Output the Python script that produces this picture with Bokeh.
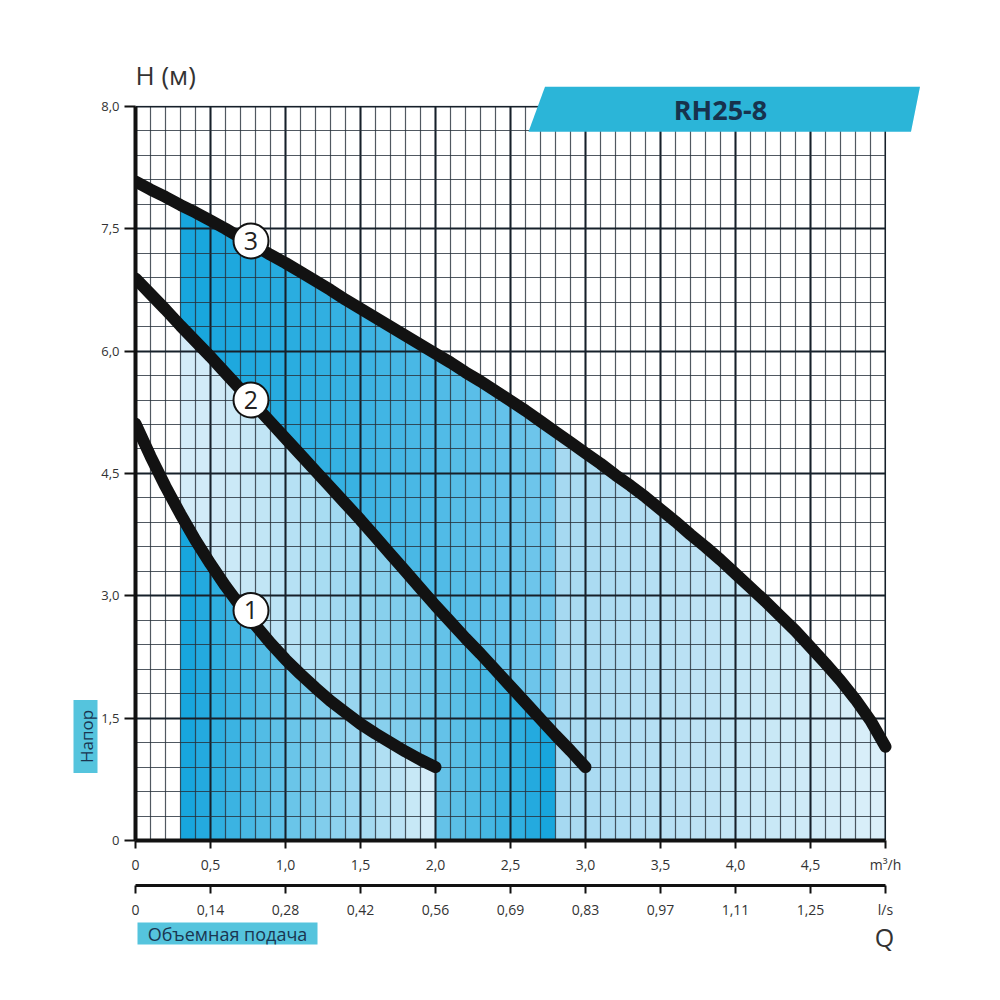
import math
from bokeh.plotting import figure
from bokeh.layouts import column, row
from bokeh.models import (FixedTicker, SingleIntervalTicker, LinearAxis, Range1d,
                          ColumnDataSource)
from bokeh.embed import file_html
from bokeh.resources import INLINE
from bokeh.core.properties import value

# ---------------- data ----------------
q = [round(i * 0.1, 1) for i in range(51)]          # flow, m3/h (one value per grid column)

curve3 = [8.08, 7.98, 7.89, 7.79, 7.70, 7.60, 7.50, 7.39, 7.29, 7.18, 7.08,
          6.97, 6.86, 6.75, 6.63, 6.52, 6.41, 6.30, 6.19, 6.08, 5.97,
          5.86, 5.74, 5.63, 5.51, 5.39, 5.27, 5.14, 5.01, 4.88, 4.75,
          4.62, 4.48, 4.35, 4.21, 4.06, 3.91, 3.75, 3.60, 3.44, 3.27,
          3.10, 2.93, 2.75, 2.57, 2.37, 2.17, 1.96, 1.73, 1.47, 1.15]
curve2 = [6.89, 6.70, 6.51, 6.31, 6.12, 5.93, 5.73, 5.53, 5.33, 5.13, 4.93,
          4.73, 4.53, 4.33, 4.13, 3.93, 3.72, 3.51, 3.30, 3.09, 2.88,
          2.68, 2.48, 2.29, 2.09, 1.89, 1.69, 1.49, 1.29, 1.10, 0.90]
curve1 = [5.11, 4.71, 4.34, 4.00, 3.68, 3.39, 3.12, 2.87, 2.64, 2.42, 2.22,
          2.04, 1.87, 1.71, 1.57, 1.43, 1.31, 1.20, 1.09, 0.99, 0.90]

badge_q = [0.77, 0.77, 0.77]
badge_h = [2.82, 5.40, 7.35]
badge_text = ["1", "2", "3"]

y_ticks = [0, 1.5, 3.0, 4.5, 6.0, 7.5, 9.0]
y_tick_labels = ["0", "1,5", "3,0", "4,5", "6,0", "7,5", "8,0"]
x_ticks = [0, 0.5, 1.0, 1.5, 2.0, 2.5, 3.0, 3.5, 4.0, 4.5, 5.0]
x_labels_m3h = ["0", "0,5", "1,0", "1,5", "2,0", "2,5", "3,0", "3,5", "4,0", "4,5", "m³/h"]
x_labels_ls = ["0", "0,14", "0,28", "0,42", "0,56", "0,69", "0,83", "0,97", "1,11", "1,25", "l/s"]

FONT = "Open Sans"
Q_MAX, H_MAX = 5.0, 9.0
X_END, Y_END = 865 / 150, 841 / 81.6667   # frame reaches the right and top edges of the page

# ---------------- main figure ----------------
p = figure(width=902, height=921, x_range=Range1d(0, X_END), y_range=Range1d(0, Y_END),
           output_backend="svg", toolbar_location=None,
           min_border_left=37, min_border_right=0,
           min_border_top=0, min_border_bottom=80,
           background_fill_color="white", border_fill_color="white")
p.outline_line_color = None

# gradient fills: one strip per grid column
def hex2rgb(h):
    h = h.lstrip("#")
    return tuple(int(h[i:i + 2], 16) for i in (0, 2, 4))

def mix(c1, c2, t):
    a, b = hex2rgb(c1), hex2rgb(c2)
    return "#%02x%02x%02x" % tuple(int(round(a[k] + (b[k] - a[k]) * t)) for k in range(3))

DARK = "#18a6dd"
LIGHT = "#d3ecf8"
xs, ys, cols = [], [], []
i0 = 3  # Q = 0.3
for i in range(i0, 20):                      # under curve 1
    t = (i - i0) / (19 - i0)
    xs.append([q[i], q[i + 1], q[i + 1], q[i]])
    ys.append([0, 0, curve1[i + 1], curve1[i]])
    cols.append(mix(DARK, LIGHT, t))
for i in range(i0, 28):                      # between curve 1 (or axis) and curve 2
    t = (i - i0) / (27 - i0)
    lo_a = curve1[i] if i < 20 else 0
    lo_b = curve1[i + 1] if i < 20 else 0
    xs.append([q[i], q[i + 1], q[i + 1], q[i]])
    ys.append([lo_a, lo_b, curve2[i + 1], curve2[i]])
    cols.append(mix(LIGHT, DARK, t ** 1.5))
for i in range(i0, 28):                      # between curve 2 and curve 3
    t = (i - i0) / (27 - i0)
    xs.append([q[i], q[i + 1], q[i + 1], q[i]])
    ys.append([curve2[i], curve2[i + 1], curve3[i + 1], curve3[i]])
    cols.append(mix(DARK, "#72c7ec", t ** 1.3))
for i in range(28, 50):                      # right part under curve 3
    t = (i - 28) / (49 - 28)
    xs.append([q[i], q[i + 1], q[i + 1], q[i]])
    ys.append([0, 0, curve3[i + 1], curve3[i]])
    cols.append(mix("#a6d9f1", "#dbeff9", t))

fill_src = ColumnDataSource(dict(xs=xs, ys=ys, c=cols))
p.patches("xs", "ys", source=fill_src, fill_color="c", line_color="c",
          line_width=0.6, level="image")

# grid
p.xgrid.ticker = SingleIntervalTicker(interval=0.5, num_minor_ticks=5)
p.ygrid.ticker = SingleIntervalTicker(interval=1.5, num_minor_ticks=5)
for g in (p.xgrid[0], p.ygrid[0]):
    g.grid_line_color = "#16202a"
    g.grid_line_width = 2
    g.minor_grid_line_color = "#26303a"
    g.minor_grid_line_width = 1.2
    g.minor_grid_line_alpha = 0.8
try:
    p.xgrid[0].cross_bounds = (0, H_MAX)
    p.ygrid[0].cross_bounds = (0, Q_MAX)
except (AttributeError, ValueError):
    pass

# white masks outside the chart area (grid only spans 0..5 x 0..9)
p.quad(left=[Q_MAX + 0.0075, -1], right=[X_END + 1, X_END + 1], bottom=[-1, H_MAX + 0.014],
       top=[Y_END + 1, Y_END + 1], fill_color="white", line_color="white", line_width=1)

# curves
for cq, ch in ((q[:21], curve1), (q[:31], curve2), (q, curve3)):
    p.line(cq, ch, line_width=12, line_color="#121212", line_cap="round", line_join="round")

p.scatter(badge_q, badge_h, marker="circle", size=35, fill_color="white",
          line_color="#121212", line_width=2)
p.text(badge_q, badge_h, text=badge_text, text_align="center", text_baseline="middle",
       text_font=value(FONT), text_font_size="25px", text_color="#222222")

# banner and axis title inside the frame
p.patch([2.73, 5.23, 5.17, 2.62], [9.24, 9.24, 8.69, 8.69], fill_color="#2bb5d8", line_color=None)
p.text([3.90], [8.965], text=["RH25-8"], text_font=value(FONT), text_font_style="bold",
       text_font_size="27px", text_color="#17324d", text_align="center", text_baseline="middle")
p.text([0.0], [9.38], text=["H (м)"], text_font=value(FONT), text_font_size="26px",
       text_color="#333333", text_align="left", text_baseline="middle")

# axes
def style_axis(ax, tick_out, line_w, fs):
    ax.axis_line_width = line_w
    ax.axis_line_color = "#111111"
    ax.major_tick_out = tick_out
    ax.major_tick_in = 0
    ax.major_tick_line_width = 2
    ax.major_tick_line_color = "#111111"
    ax.minor_tick_out = 0
    ax.minor_tick_in = 0
    ax.major_label_text_font = FONT
    ax.major_label_text_font_size = fs
    ax.major_label_text_color = "#333333"

ya = p.yaxis[0]
ya.ticker = FixedTicker(ticks=y_ticks)
ya.major_label_overrides = dict(zip(y_ticks, y_tick_labels))
ya.bounds = (0, H_MAX)
style_axis(ya, 11, 4, "13px")
ya.major_label_standoff = 5

xa = p.xaxis[0]
xa.ticker = FixedTicker(ticks=x_ticks)
xa.major_label_overrides = dict(zip(x_ticks, x_labels_m3h))
xa.bounds = (0, Q_MAX)
style_axis(xa, 8, 4, "14px")
xa.major_label_standoff = 6
xa.axis_label = " "
xa.axis_label_text_font_size = "6px"
xa.axis_label_standoff = 0

xa2 = LinearAxis(ticker=FixedTicker(ticks=x_ticks),
                 major_label_overrides=dict(zip(x_ticks, x_labels_ls)))
xa2.bounds = (0, Q_MAX)
style_axis(xa2, 8, 3, "14px")
xa2.major_label_standoff = 6
p.add_layout(xa2, "below")

# ---------------- left strip: "Напор" ----------------
lf = figure(width=98, height=921, x_range=Range1d(0, 98), y_range=Range1d(0, 921),
            x_axis_type=None, y_axis_type=None, output_backend="svg", toolbar_location=None,
            min_border=0, background_fill_color="white", border_fill_color="white")
lf.outline_line_color = None
lf.quad(left=[73], right=[97], bottom=[74], top=[154], fill_color="#55c4dd", line_color=None)
lf.text([86], [114], text=["Напор"], angle=math.pi / 2, text_font=value(FONT),
        text_font_size="17px", text_color="#1a3550", text_align="center", text_baseline="middle")

# ---------------- bottom strip: "Объемная подача", "Q" ----------------
bf = figure(width=1000, height=79, x_range=Range1d(0, 1000), y_range=Range1d(0, 79),
            x_axis_type=None, y_axis_type=None, output_backend="svg", toolbar_location=None,
            min_border=0, background_fill_color="white", border_fill_color="white")
bf.outline_line_color = None
bf.quad(left=[137], right=[317], bottom=[56], top=[78], fill_color="#55c4dd", line_color=None)
bf.text([227], [67], text=["Объемная подача"], text_font=value(FONT), text_font_size="18px",
        text_color="#1a3550", text_align="center", text_baseline="middle")
bf.text([884], [64], text=["Q"], text_font=value(FONT), text_font_size="25px",
        text_color="#333333", text_align="center", text_baseline="middle")

layout = column(row(lf, p, spacing=0), bf, spacing=0)
open("out.html", "w").write(file_html(layout, INLINE))
